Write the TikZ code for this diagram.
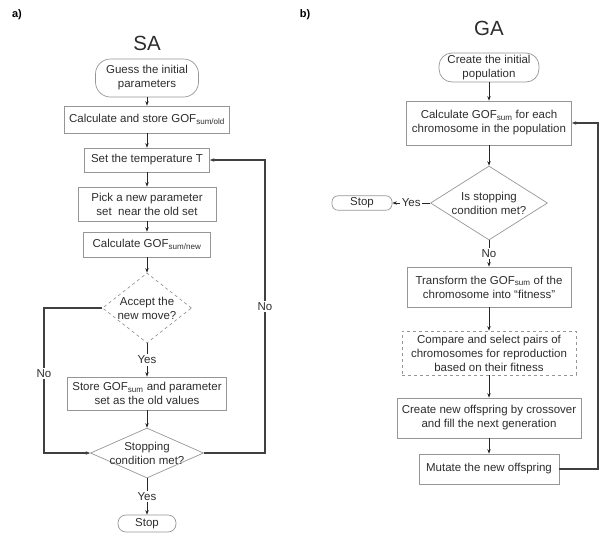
\documentclass[tikz,border=0pt]{standalone}
\usepackage{fontspec}
\setmainfont{Liberation Sans}
\usetikzlibrary{shapes.geometric, arrows.meta, positioning}
\definecolor{boxgray}{RGB}{150, 150, 150}
\definecolor{textgray}{RGB}{45, 45, 45}

\begin{document}
\begin{tikzpicture}[x=1pt, y=-1pt,
  box/.style={draw=boxgray, line width=0.7pt, align=center, inner sep=2pt, text=textgray, font=\fontsize{11.5}{14}\selectfont},
  term/.style={box, rounded corners=12pt},
  decision/.style={box, diamond, inner sep=-3pt},
  flow/.style={-{Stealth[length=4.5pt, width=3.5pt]}, line width=0.9pt, draw=black!85},
  loopline/.style={flow, line width=1.1pt, draw=black!75},
  lbl/.style={fill=white, inner sep=1.5pt, text=textgray, font=\fontsize{11.5}{13}\selectfont},
  title/.style={text=textgray, font=\fontsize{20.5}{22}\selectfont},
  panel/.style={font=\bfseries\fontsize{11}{12}\selectfont}
]
  \useasboundingbox (0,0) rectangle (600,539);

  % panel a) -- SA
  \node[panel] (pa) at (17,15) {a)};
  \node[title] (satitle) at (147,43) {SA};
  \node[term, rounded corners=15pt, minimum width=103pt, minimum height=38pt] (guess) at (147,78) {Guess the initial\\parameters};
  \node[box, minimum width=165pt, minimum height=27pt] (calcold) at (147,119.5) {Calculate and store GOF\textsubscript{sum/old}};
  \node[box, minimum width=125pt, minimum height=24pt] (settemp) at (147,160) {Set the temperature T};
  \node[box, minimum width=138pt, minimum height=34pt] (pick) at (147,204) {Pick a new parameter\\set\ \ near the old set};
  \node[box, minimum width=127pt, minimum height=25pt] (calcnew) at (147,244.5) {Calculate GOF\textsubscript{sum/new}};
  \node[decision, dashed, aspect=1.27, minimum width=89pt, minimum height=70pt] (accept) at (147,308) {Accept the\\new move?};
  \node[box, minimum width=159pt, minimum height=33pt] (store) at (147,393.5) {Store GOF\textsubscript{sum} and parameter\\set as the old values};
  \node[decision, inner sep=-4pt, aspect=2.26, minimum width=113pt, minimum height=50pt] (stopcond) at (147,453) {Stopping\\condition met?};
  \node[term, rounded corners=8pt, minimum width=58pt, minimum height=17pt] (stopa) at (147,523.5) {Stop};
  \coordinate (rloop) at (265,160);
  \coordinate (lloop) at (44,308);

  \draw[flow] (guess) -- (calcold);
  \draw[flow] (calcold) -- (settemp);
  \draw[flow] (settemp) -- (pick);
  \draw[flow] (pick) -- (calcnew);
  \draw[flow] (calcnew) -- (accept);
  \draw[flow] (accept) -- node[lbl] {Yes} (store);
  \draw[flow] (store) -- (stopcond);
  \draw[flow] (stopcond) -- node[lbl] {Yes} (stopa);
  \draw[loopline] (stopcond.east) -- (stopcond.east -| rloop) -- node[lbl] {No} (rloop) -- (settemp.east);
  \draw[loopline] (accept.west) -- (lloop) -- node[lbl, pos=0.45] {No} (lloop |- stopcond) -- (stopcond.west);

  % panel b) -- GA
  \node[panel] (pb) at (305,15) {b)};
  \node[title] (gatitle) at (489,28) {GA};
  \node[term, rounded corners=13pt, minimum width=100pt, minimum height=29pt] (create) at (489,67.5) {Create the initial\\population};
  \node[box, minimum width=165pt, minimum height=44pt] (calcsum) at (489,123) {Calculate GOF\textsubscript{sum} for each\\chromosome in the population};
  \node[decision, aspect=1.58, minimum width=117pt, minimum height=74pt] (isstop) at (489,203) {Is stopping\\condition met?};
  \node[term, rounded corners=6pt, minimum width=60pt, minimum height=14pt] (stopb) at (362,203) {Stop};
  \node[box, minimum width=164pt, minimum height=40pt] (transform) at (489,287) {Transform the GOF\textsubscript{sum} of the\\chromosome into ``fitness''};
  \node[box, dashed, minimum width=174pt, minimum height=44pt] (select) at (489,353) {Compare and select pairs of\\chromosomes for reproduction\\based on their fitness};
  \node[box, minimum width=184pt, minimum height=40pt] (offspring) at (489,418) {Create new offspring by crossover\\and fill the next generation};
  \node[box, minimum width=140pt, minimum height=30pt] (mutate) at (489,469) {Mutate the new offspring};
  \coordinate (gloop) at (598,123);

  \draw[flow] (create) -- (calcsum);
  \draw[flow] (calcsum) -- (isstop);
  \draw[flow] (isstop) -- node[lbl] {Yes} (stopb);
  \draw[flow] (isstop) -- node[lbl] {No} (transform);
  \draw[flow] (transform) -- (select);
  \draw[flow] (select) -- (offspring);
  \draw[flow] (offspring) -- (mutate);
  \draw[loopline] (mutate.east) -- (mutate.east -| gloop) -- (gloop) -- (calcsum.east);
\end{tikzpicture}
\end{document}
